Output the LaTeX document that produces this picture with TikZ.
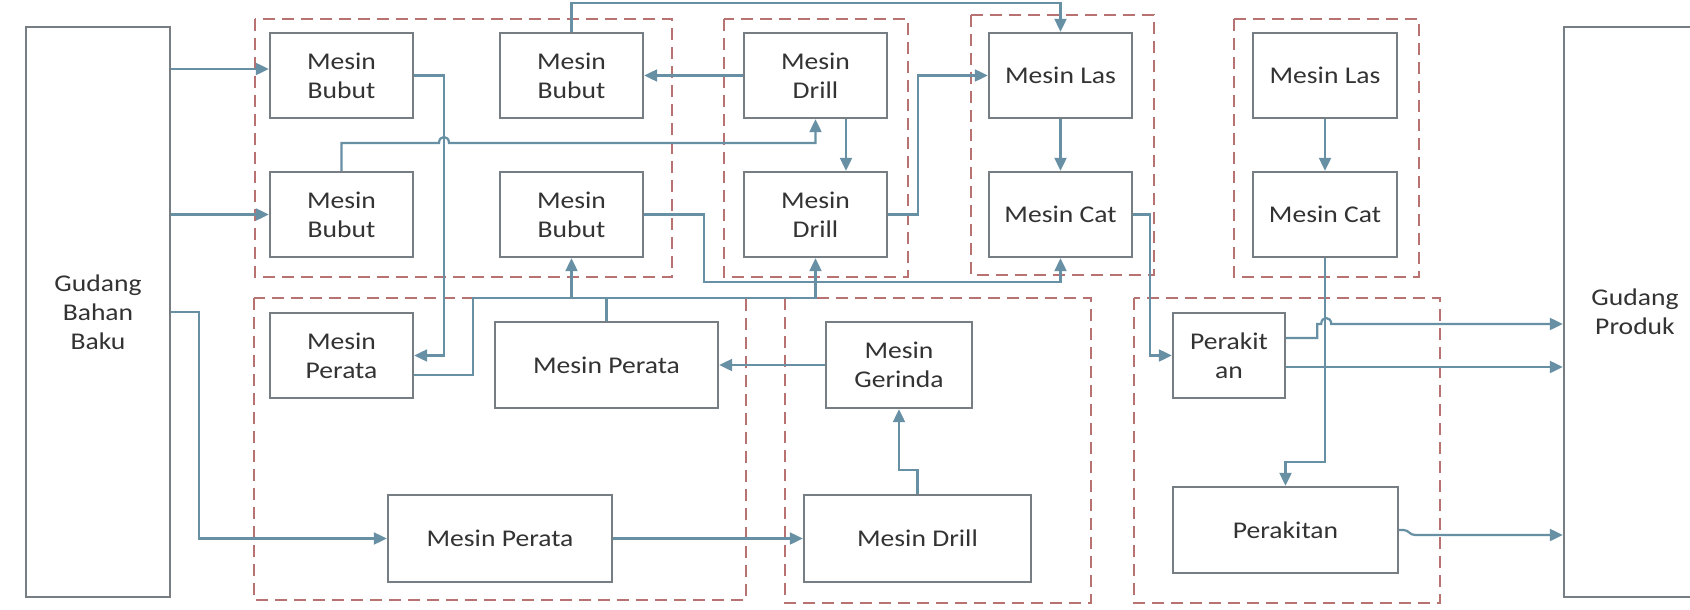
\documentclass[tikz,border=0pt]{standalone}
\usepackage{fontspec}
\setmainfont{Carlito}[FakeStretch=1.15]
\usetikzlibrary{arrows.meta,calc}
\definecolor{boxc}{HTML}{767D83}
\definecolor{linec}{HTML}{6790A5}
\definecolor{dashc}{HTML}{B87272}
\definecolor{txtc}{HTML}{333333}
\tikzset{
 mbox/.style={draw=boxc, line width=2.4pt, inner sep=0pt, align=center, text=txtc, font=\fontsize{24}{29}\selectfont},
 grp/.style={draw=dashc, line width=2.6pt, dash pattern=on 12pt off 7pt},
 conn/.style={draw=linec, line width=2.2pt},
 arr/.style={conn, -{Triangle[length=13pt,width=12pt]}},
}
\begin{document}
\begin{tikzpicture}[x=1pt,y=-1pt]
\useasboundingbox (0,0) rectangle (1690,610);
\clip (0,0) rectangle (1690,610);
\fill[white] (0,0) rectangle (1690,610);

% group frames
\draw[grp] (255,19) rectangle (672,277);
\draw[grp] (724,19) rectangle (908,277);
\draw[grp] (971,15) rectangle (1154,275);
\draw[grp] (1234,19) rectangle (1419,277);
\draw[grp] (254,298) rectangle (746,600);
\draw[grp] (785,298) rectangle (1091,603);
\draw[grp] (1134,298) rectangle (1440,603);

% nodes
\node[mbox, minimum width=144pt, minimum height=570pt] (GBB) at (98,312) {Gudang\\Bahan\\Baku};
\node[mbox, minimum width=142pt, minimum height=570pt] (GP) at (1635,312) {Gudang\\Produk};

\node[mbox, minimum width=143pt, minimum height=85pt] (MB1) at (341.5,75.5) {Mesin\\Bubut};
\node[mbox, minimum width=143pt, minimum height=85pt] (MB2) at (571.5,75.5) {Mesin\\Bubut};
\node[mbox, minimum width=143pt, minimum height=85pt] (MB3) at (341.5,214.5) {Mesin\\Bubut};
\node[mbox, minimum width=143pt, minimum height=85pt] (MB4) at (571.5,214.5) {Mesin\\Bubut};
\node[mbox, minimum width=143pt, minimum height=85pt] (MD1) at (815.5,75.5) {Mesin\\Drill};
\node[mbox, minimum width=143pt, minimum height=85pt] (MD2) at (815.5,214.5) {Mesin\\Drill};
\node[mbox, minimum width=143pt, minimum height=85pt] (ML1) at (1060.5,75.5) {Mesin Las};
\node[mbox, minimum width=143pt, minimum height=85pt] (MC1) at (1060.5,214.5) {Mesin Cat};
\node[mbox, minimum width=144pt, minimum height=85pt] (ML2) at (1325,75.5) {Mesin Las};
\node[mbox, minimum width=144pt, minimum height=85pt] (MC2) at (1325,214.5) {Mesin Cat};

\node[mbox, minimum width=143pt, minimum height=85pt] (MP1) at (341.5,355.5) {Mesin\\Perata};
\node[mbox, minimum width=223pt, minimum height=86pt] (MP2) at (606.5,365) {Mesin Perata};
\node[mbox, minimum width=224pt, minimum height=87pt] (MP3) at (500,538.5) {Mesin Perata};
\node[mbox, minimum width=146pt, minimum height=86pt] (MG) at (899,365) {Mesin\\Gerinda};
\node[mbox, minimum width=227pt, minimum height=87pt] (MD3) at (917.5,538.5) {Mesin Drill};
\node[mbox, minimum width=112pt, minimum height=85pt] (PK1) at (1229,355.5) {Perakit\\an};
\node[mbox, minimum width=225pt, minimum height=86pt] (PK2) at (1285.5,530) {Perakitan};

% helper coordinates
\coordinate (ytop) at (0,3);
\coordinate (y143) at (0,143);
\coordinate (x444) at (444,0);
\coordinate (x918) at (918,0);
\coordinate (x704) at (704,0);
\coordinate (y282) at (0,282);
\coordinate (x473) at (473,0);
\coordinate (y298) at (0,298);
\coordinate (y470) at (0,470);
\coordinate (x1150) at (1150,0);
\coordinate (y462) at (0,462);
\coordinate (x199) at (199,0);
\coordinate (y324) at (0,324);
\coordinate (y535) at (0,535);

% connectors
\coordinate (g1) at ([yshift=6.5pt]MB1.west);
\draw[arr] (g1 -| GBB.east) -- (g1);
\draw[arr] (GBB.east |- MB3.west) -- (MB3.west);
\draw[arr] (GBB.east) -- (GBB.east -| x199) -- (x199 |- MP3.west) -- (MP3.west);

\draw[arr] (MB1.east) -- (MB1.east -| x444) |- (MP1.east);
\draw[arr] (MB2.north) -- (MB2.north |- ytop) -- (ML1.north |- ytop) -- (ML1.north);
\draw[arr] (MB3.north) -- (MB3.north |- y143) -- ($(x444 |- y143)+(-5,0)$)
   .. controls +(0,-8) and +(0,-8) .. ($(x444 |- y143)+(5,0)$)
   -- (MD1.south |- y143) -- (MD1.south);
\draw[arr] (MD1.west) -- (MB2.east);
\draw[arr] ([xshift=30.5pt]MD1.south) -- ([xshift=30.5pt]MD2.north);
\draw[arr] (MD2.east) -- (MD2.east -| x918) |- (ML1.west);
\draw[arr] (ML1.south) -- (MC1.north);
\draw[arr] (MB4.east) -- (MB4.east -| x704) -- (x704 |- y282) -- (MC1.south |- y282) -- (MC1.south);

\coordinate (mp1a) at ([yshift=-19.5pt]MP1.east);
\draw[arr] (mp1a) -- (mp1a -| x473) -- (x473 |- y298) -- (MD2.south |- y298) -- (MD2.south);
\draw[arr] (MB4.south |- y298) -- (MB4.south);
\draw[conn] (MP2.north) -- (MP2.north |- y298);

\draw[arr] (MG.west) -- (MP2.east);
\draw[arr] (MD3.north) -- (MD3.north |- y470) -- (MG.south |- y470) -- (MG.south);
\draw[arr] (MP3.east) -- (MD3.west);

\draw[arr] (MC1.east) -- (MC1.east -| x1150) |- (PK1.west);
\draw[arr] (ML2.south) -- (MC2.north);
\draw[arr] (MC2.south) -- (MC2.south |- y462) -- (PK2.north |- y462) -- (PK2.north);

\coordinate (pk1a) at ([yshift=17.5pt]PK1.east);
\draw[arr] (pk1a) -- ++(31,0) -- ++(0,-14) -- ++(4,0) .. controls +(0,-8) and +(0,-8) .. ++(10,0) -- (GP.west |- y324);
\coordinate (pk1b) at ([yshift=-11.5pt]PK1.east);
\draw[arr] (pk1b) -- (pk1b -| GP.west);
\draw[arr] (PK2.east) -- ++(4,0) .. controls +(6,0) and +(-6,0) .. ++(12,5) -- (GP.west |- y535);
\end{tikzpicture}
\end{document}
